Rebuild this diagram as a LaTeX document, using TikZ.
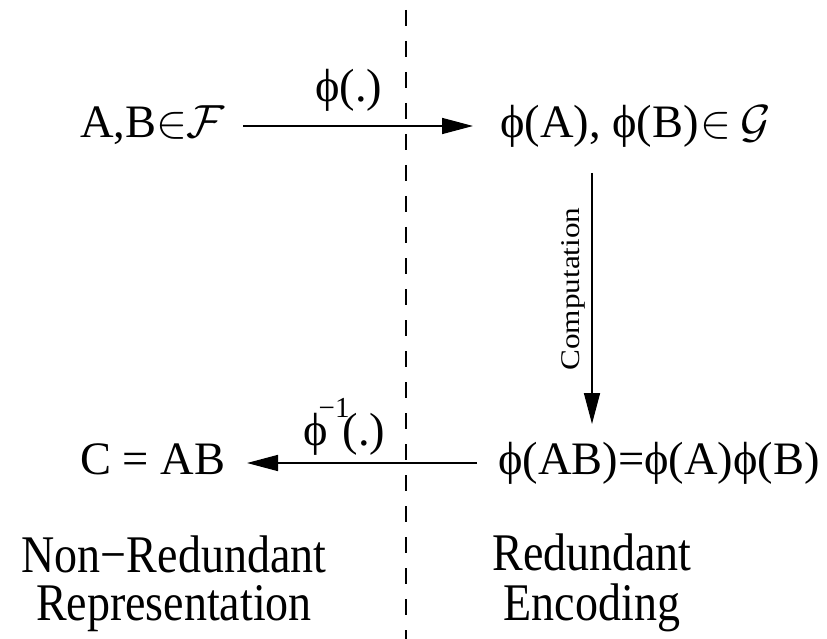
\RequirePackage{fix-cm}
\documentclass[tikz,border=0pt]{standalone}
\usepackage{fontspec}
\setmainfont{Liberation Serif}
\usetikzlibrary{arrows.meta}
\newcommand\ph{ϕ}
\newcommand\vstretch[1]{\scalebox{1}[1.15]{#1}}
\begin{document}
\begin{tikzpicture}[x=1pt,y=1pt,
  txt/.style={anchor=base west, inner sep=0pt, font=\fontsize{46.5}{50}\selectfont},
  lbl/.style={anchor=base, inner sep=0pt, font=\fontsize{46}{36.5}\selectfont},
  arr/.style={line width=1.6pt, -{Triangle[length=31pt,width=16pt]}},
  divider/.style={line width=1.8pt, dash pattern=on 16pt off 15pt}]
\useasboundingbox (0,0) rectangle (827,-639);
\fill[white] (0,0) rectangle (827,-639);
% divider
\coordinate (dtop) at (406,-10);
\coordinate (dbot) at (406,-639);
\draw[divider] (dtop) -- (dbot);
% texts
\node[txt] (ab) at (80,-138) {A,B$\in$\kern-1pt$\mathcal{F}$};
\node[txt] (phiab) at (500,-138) {\ph(A), \ph(B)\kern2pt$\in$\kern9pt$\mathcal{G}$};
\node[txt] (prod) at (498,-474) {\ph(AB)=\ph(A)\ph(B)};
\node[txt] (c) at (80,-474) {C = AB};
\node[txt] (f1) at (315,-102) {\ph(.)};
\node[txt] (f2) at (303,-445) {\ph\hspace{-9pt}\raisebox{28pt}{\fontsize{29}{29}\selectfont −1}\hspace{-7pt}(.)};
\node[rotate=90, anchor=base, inner sep=0pt, font=\fontsize{27}{30}\selectfont] (comp) at (579,-289) {\scalebox{1.157}[1]{Computation}};
\node[lbl] (nr) at (174,-620) {\vstretch{\begin{tabular}[b]{@{}c@{}}Non−Redundant\\Representation\end{tabular}}};
\node[lbl] (re) at (592,-620) {\vstretch{\begin{tabular}[b]{@{}c@{}}Redundant\\Encoding\end{tabular}}};
% arrows
\coordinate (a1s) at (243,-126);
\coordinate (a1e) at (473,-126);
\coordinate (a2s) at (592,-173);
\coordinate (a2e) at (592,-424);
\coordinate (a3s) at (477,-463);
\coordinate (a3e) at (247,-463);
\draw[arr] (a1s) -- (a1e);
\draw[arr] (a2s) -- (a2e);
\draw[arr] (a3s) -- (a3e);
\end{tikzpicture}
\end{document}
